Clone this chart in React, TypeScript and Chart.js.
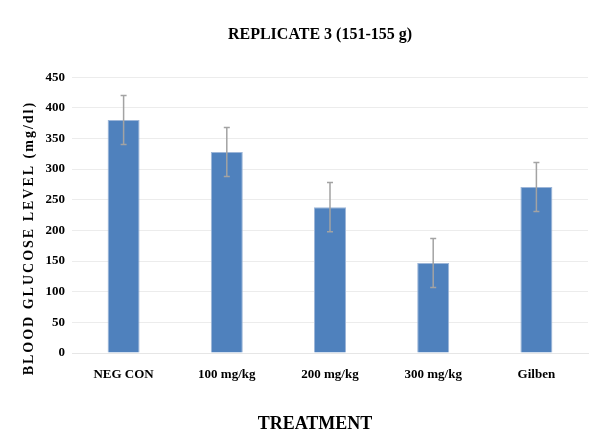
import React, { useEffect, useRef } from "react";
import { Chart, registerables } from "chart.js";

Chart.register(...registerables);

const categories = ["NEG CON", "100 mg/kg", "200 mg/kg", "300 mg/kg", "Gilben"];
const glucose = [380, 328, 238, 147, 271];
const errors = [40, 40, 40, 40, 40];
const yTicks = [0, 50, 100, 150, 200, 250, 300, 350, 400, 450];

const chartTitle = "REPLICATE 3 (151-155 g)";
const xTitle = "TREATMENT";
const yTitle = "BLOOD GLUCOSE LEVEL (mg/dl)";

const FONT = "'Liberation Serif', 'Times New Roman', serif";

const errorBarPlugin = {
  id: "errorBars",
  afterLayout(chart: any) {
    // centre the chart title over the same span as the original picture
    if (chart.titleBlock) {
      chart.titleBlock.left = 52;
      chart.titleBlock.right = 588;
    }
  },
  afterDatasetsDraw(chart: any) {
    const { ctx } = chart;
    const xs = chart.scales.x;
    const ys = chart.scales.y;
    ctx.save();
    ctx.strokeStyle = "#a3a3a3";
    ctx.lineWidth = 1.5;
    glucose.forEach((v, i) => {
      const x = xs.getPixelForValue(i);
      const top = ys.getPixelForValue(v + errors[i]);
      const bot = ys.getPixelForValue(v - errors[i]);
      ctx.beginPath();
      ctx.moveTo(x, top);
      ctx.lineTo(x, bot);
      ctx.moveTo(x - 3, top);
      ctx.lineTo(x + 3, top);
      ctx.moveTo(x - 3, bot);
      ctx.lineTo(x + 3, bot);
      ctx.stroke();
    });
    ctx.restore();
  },
};

export default function App() {
  const ref = useRef<HTMLCanvasElement | null>(null);

  useEffect(() => {
    if (!ref.current) return;
    const chart = new Chart(ref.current, {
      type: "bar",
      data: {
        labels: categories,
        datasets: [
          {
            label: "Blood glucose",
            data: glucose,
            backgroundColor: "#4f81bd",
            borderColor: "#9db6d8",
            borderWidth: 1,
            barPercentage: 0.31,
            categoryPercentage: 1,
          },
        ],
      },
      options: {
        animation: false,
        responsive: false,
        maintainAspectRatio: false,
        layout: { padding: { left: 0, right: 27, top: 0, bottom: 0 } },
        plugins: {
          legend: { display: false },
          tooltip: { enabled: false },
          title: {
            display: true,
            text: chartTitle,
            color: "#000",
            font: { family: FONT, size: 16, weight: "bold" },
            padding: { top: 25, bottom: 33 },
          },
        },
        scales: {
          x: {
            grid: { display: false, drawTicks: false },
            border: { display: true, color: "#e6e6e6" },
            ticks: {
              color: "#000",
              font: { family: FONT, size: 13, weight: "bold" },
              padding: 14,
              maxRotation: 0,
            },
            title: {
              display: true,
              text: xTitle,
              color: "#000",
              font: { family: FONT, size: 18, weight: "bold" },
              padding: { top: 0, bottom: 0 },
            },
            afterFit(scale: any) {
              scale.height = 82;
              if (!scale._shiftedTitle) {
                const orig = scale.drawTitle.bind(scale);
                scale.drawTitle = function () {
                  const ctx = scale.ctx;
                  ctx.save();
                  ctx.translate(-15, 0);
                  orig();
                  ctx.restore();
                };
                scale._shiftedTitle = true;
              }
            },
          },
          y: {
            min: 0,
            max: 450,
            afterBuildTicks(scale: any) {
              scale.ticks = yTicks.map((v) => ({ value: v }));
            },
            grid: { color: "#ececec", drawTicks: false },
            border: { display: false },
            ticks: {
              color: "#000",
              font: { family: FONT, size: 13, weight: "bold" },
              padding: 7,
            },
            title: {
              display: true,
              text: yTitle,
              color: "#000",
              font: { family: FONT, size: 14, weight: "bold" },
              padding: { top: 21, bottom: 0 },
            },
            afterFit(scale: any) {
              scale.width = 72;
              if (!scale._spacedTitle) {
                const orig = scale.drawTitle.bind(scale);
                scale.drawTitle = function () {
                  const ctx = scale.ctx;
                  ctx.save();
                  ctx.translate(0, 23);
                  ctx.letterSpacing = "2px";
                  orig();
                  ctx.letterSpacing = "0px";
                  ctx.restore();
                };
                scale._spacedTitle = true;
              }
            },
          },
        },
      },
      plugins: [errorBarPlugin],
    });
    return () => chart.destroy();
  }, []);

  return (
    <div style={{ position: "fixed", left: 0, top: 0, width: 615, height: 435, background: "#fff" }}>
      <canvas ref={ref} width={615} height={435} style={{ display: "block" }} />
    </div>
  );
}
